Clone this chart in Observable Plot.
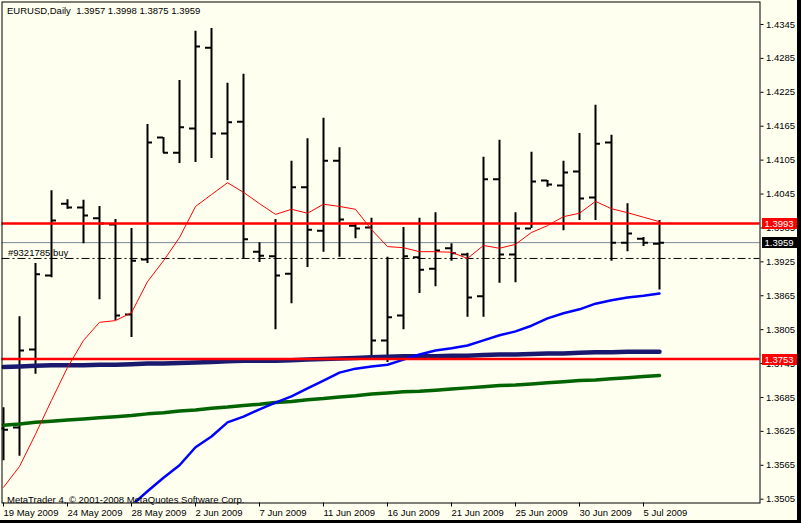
<!DOCTYPE html>
<html><head><meta charset="utf-8">
<script src="https://cdn.jsdelivr.net/npm/d3@7"></script>
<script src="https://cdn.jsdelivr.net/npm/@observablehq/plot@0.6"></script>
<style>
html,body{margin:0;padding:0;background:#000;}
#wrap{width:797px;height:520px;border-right:4px solid #000;border-bottom:3px solid #000;background:#FFFFF0;overflow:hidden;}
#wrap svg{display:block;}
</style></head><body><div id="wrap"></div>
<script>
// ---- data ----
const symbolTitle = "EURUSD,Daily\u00a0 1.3957 1.3998 1.3875 1.3959";
const copyright = "MetaTrader 4, \u00a9 2001-2008 MetaQuotes Software Corp.";
const orderLabel = "#9321785 buy";
const barDates = ["2009-05-19","2009-05-20","2009-05-21","2009-05-22","2009-05-24","2009-05-25","2009-05-26","2009-05-27","2009-05-28","2009-05-29","2009-05-31",
  "2009-06-01","2009-06-02","2009-06-03","2009-06-04","2009-06-05","2009-06-07","2009-06-08","2009-06-09","2009-06-10","2009-06-11","2009-06-12","2009-06-14",
  "2009-06-15","2009-06-16","2009-06-17","2009-06-18","2009-06-19","2009-06-21","2009-06-22","2009-06-23","2009-06-24","2009-06-25","2009-06-26","2009-06-28",
  "2009-06-29","2009-06-30","2009-07-01","2009-07-02","2009-07-03","2009-07-05","2009-07-06"];
const opens  = [1.3630,1.3632,1.3770,1.3901,1.4028,1.4021,1.4002,1.3991,1.3832,1.3929,1.4145,1.4118,1.4161,1.4304,1.4152,1.4173,1.3943,1.3935,1.3904,1.4057,1.3980,1.4104,1.3989,1.3986,1.3786,1.3830,1.3933,1.3913,1.3949,1.3938,1.3864,1.4071,1.3938,1.3984,1.4069,1.4060,1.4085,1.4039,1.4136,1.3959,1.3966,1.3957];
const highs  = [1.3667,1.3828,1.3922,1.4051,1.4035,1.4034,1.4023,1.4000,1.3984,1.4168,1.4145,1.4246,1.4333,1.4338,1.4241,1.4257,1.3959,1.4000,1.4103,1.4143,1.4179,1.4127,1.3991,1.4002,1.3933,1.3986,1.4002,1.4012,1.3957,1.3940,1.4110,1.4140,1.4012,1.4119,1.4069,1.4103,1.4152,1.4202,1.4149,1.4028,1.3968,1.3998];
const lows   = [1.3573,1.3581,1.3726,1.3897,1.4018,1.3957,1.3858,1.3821,1.3791,1.3922,1.4117,1.4099,1.4101,1.4108,1.4069,1.3931,1.3924,1.3805,1.3851,1.3915,1.3942,1.3933,1.3966,1.3756,1.3747,1.3805,1.3869,1.3881,1.3926,1.3827,1.3827,1.3887,1.3888,1.3984,1.4057,1.3980,1.3998,1.3998,1.3926,1.3943,1.3952,1.3875];
const closes = [1.3628,1.3768,1.3903,1.3998,1.4021,1.4007,1.3993,1.3830,1.3927,1.4136,1.4118,1.4163,1.4306,1.4152,1.4172,1.3965,1.3936,1.3901,1.4057,1.3982,1.4104,1.4000,1.3984,1.3786,1.3827,1.3935,1.3911,1.3945,1.3940,1.3862,1.4071,1.3938,1.3984,1.4067,1.4062,1.4083,1.4037,1.4134,1.3959,1.3975,1.3959,1.3959];
const maFast = [1.3526,1.3563,1.3620,1.3680,1.3738,1.3786,1.3818,1.3821,1.3835,1.3890,1.3927,1.3968,1.4023,1.4044,1.4065,1.4048,1.4028,1.4009,1.4018,1.4011,1.4027,1.4023,1.4018,1.3982,1.3952,1.3950,1.3943,1.3943,1.3942,1.3931,1.3954,1.3949,1.3956,1.3977,1.3989,1.4005,1.4011,1.4032,1.4019,1.4012,1.4004,1.3996];
const maMid  = [null,null,null,null,null,null,null,null,1.3494,1.3519,1.3543,1.3565,1.3597,1.3616,1.3641,1.3651,1.3664,1.3676,1.3687,1.3701,1.3715,1.3729,1.3736,1.3740,1.3743,1.3752,1.3761,1.3768,1.3772,1.3777,1.3786,1.3795,1.3802,1.3812,1.3825,1.3834,1.3841,1.3851,1.3857,1.3862,1.3865,1.3869];
const maSlow = [1.3739,1.3740,1.3741,1.3742,1.3742,1.3742,1.3743,1.3743,1.3744,1.3745,1.3745,1.3746,1.3747,1.3748,1.3749,1.3750,1.3750,1.3750,1.3751,1.3752,1.3753,1.3754,1.3755,1.3756,1.3757,1.3758,1.3758,1.3758,1.3759,1.3759,1.3760,1.3761,1.3761,1.3762,1.3763,1.3763,1.3764,1.3765,1.3765,1.3766,1.3766,1.3766];
const maLong = [1.3636,1.3638,1.3641,1.3643,1.3645,1.3647,1.3649,1.3651,1.3653,1.3656,1.3658,1.3661,1.3663,1.3666,1.3668,1.3671,1.3673,1.3676,1.3678,1.3681,1.3683,1.3686,1.3688,1.3691,1.3693,1.3695,1.3696,1.3698,1.3700,1.3702,1.3704,1.3706,1.3707,1.3709,1.3711,1.3713,1.3715,1.3716,1.3718,1.3720,1.3722,1.3724];
const redLevels = [1.3993, 1.3753];
const bidPrice = 1.3959;
const orderPrice = 1.3931;
const priceTicks = [1.3505,1.3565,1.3625,1.3685,1.3745,1.3805,1.3865,1.3925,1.3985,1.4045,1.4105,1.4165,1.4225,1.4285,1.4345];
const dateTickBars = [0,4,8,12,16,20,24,28,32,36,40];
const priceBoxes = [{price:1.3993, fill:"#FF0000"},{price:1.3959, fill:"#000000"},{price:1.3753, fill:"#FF0000"}];

// ---- build ----
const parse = d3.utcParse("%Y-%m-%d");
const fmt = d3.utcFormat("%-d %b %Y");
const bars = barDates.map((d,i)=>({i, date:parse(d), open:opens[i], high:highs[i], low:lows[i], close:closes[i]}));
const series = (arr)=>arr.map((v,i)=>({i, v})).filter(d=>d.v!=null);
const FONT = "'Liberation Sans', Arial, sans-serif";

const plot = Plot.plot({
  width: 797, height: 520,
  marginLeft: 1.5, marginTop: 1.5, marginRight: 37.5, marginBottom: 17.5,
  style: {background: "#FFFFF0", fontFamily: FONT, fontSize: "9.5px", color: "#000", overflow: "visible"},
  x: {type: "linear", domain: [-0.09375, 47.28125], label: null},
  y: {domain: [1.349828, 1.438481], label: null},
  marks: [
    Plot.ruleY([bidPrice], {stroke: "#778899", strokeWidth: 1}),
    Plot.ruleY([orderPrice], {stroke: "#000", strokeWidth: 1, strokeDasharray: "8,3,2,3"}),
    Plot.ruleX(bars, {x: "i", y1: "low", y2: "high", stroke: "#000", strokeWidth: 2, clip: true}),
    Plot.ruleY(bars, {y: "open", x1: d => d.i - 0.375, x2: "i", stroke: "#000", strokeWidth: 2, clip: true}),
    Plot.ruleY(bars, {y: "close", x1: "i", x2: d => d.i + 0.3125, stroke: "#000", strokeWidth: 2, clip: true}),
    Plot.line(series(maLong), {x: "i", y: "v", stroke: "#006400", strokeWidth: 3.5, clip: true}),
    Plot.line(series(maSlow), {x: "i", y: "v", stroke: "#191970", strokeWidth: 4.5, clip: true}),
    Plot.line(series(maMid), {x: "i", y: "v", stroke: "#0000FF", strokeWidth: 2.5, clip: true}),
    Plot.line(series(maFast), {x: "i", y: "v", stroke: "#FF0000", strokeWidth: 1, clip: true}),
    Plot.ruleY(redLevels, {stroke: "#FF0000", strokeWidth: 2.5}),
    Plot.frame({stroke: "#000", strokeWidth: 1}),
    Plot.axisY({anchor: "right", ticks: priceTicks, tickFormat: d => d.toFixed(4), tickSize: 3, tickPadding: 3, stroke: "#000", fill: "#000", label: null}),
    Plot.axisX({anchor: "bottom", ticks: dateTickBars, tickFormat: i => fmt(bars[i].date), tickSize: 4, tickPadding: 2, textAnchor: "start", stroke: "#000", fill: "#000", label: null}),
    Plot.text([symbolTitle], {frameAnchor: "top-left", dx: 5, dy: 5, lineAnchor: "top", textAnchor: "start", fill: "#000"}),
    Plot.text([copyright], {frameAnchor: "bottom-left", dx: 5, dy: 0, lineAnchor: "bottom", textAnchor: "start", fill: "#000"}),
    Plot.text([orderLabel], {y: () => orderPrice, frameAnchor: "left", dx: 6, dy: -2, lineAnchor: "bottom", textAnchor: "start", fill: "#000"})
  ]
});

// price boxes on the right axis, placed with the plot's y scale
const ys = plot.scale("y");
const xs = plot.scale("x");
const right = xs.apply(xs.domain[1]);
const g = d3.select(plot).append("g")
  .attr("font-family", FONT).attr("font-size", "9.5px").attr("text-anchor", "start");
priceBoxes.forEach(b => {
  const y = ys.apply(b.price);
  g.append("rect").attr("x", right + 2.5).attr("y", Math.round(y) - 5).attr("width", 35).attr("height", 11).attr("fill", b.fill);
  g.append("text").attr("x", right + 5).attr("y", Math.round(y) + 3.5).attr("text-anchor", "start").attr("fill", "#fff").text(b.price.toFixed(4));
});

document.getElementById("wrap").appendChild(plot);
</script></body></html>
